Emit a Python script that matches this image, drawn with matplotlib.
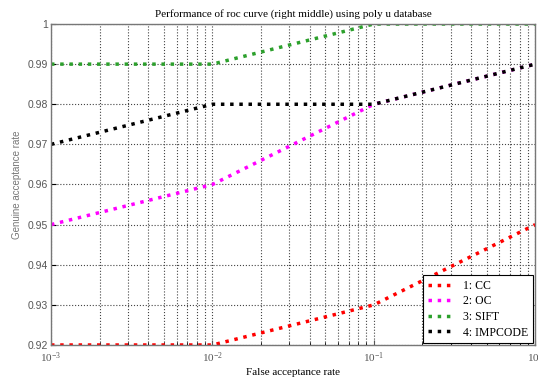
import matplotlib
matplotlib.use('Agg')
import numpy as np
import matplotlib.pyplot as plt

# data
far = [1e-3, 1e-2, 1e-1, 1.0]
gar_cc = [0.92, 0.92, 0.93, 0.95]
gar_oc = [0.95, 0.96, 0.98, 0.99]
gar_sift = [0.99, 0.99, 1.00, 1.00]
gar_imp = [0.97, 0.98, 0.98, 0.99]
labels = ['1: CC', '2: OC', '3: SIFT', '4: IMPCODE']
yticks = [0.92, 0.93, 0.94, 0.95, 0.96, 0.97, 0.98, 0.99, 1.0]
yticklabels = ['0.92', '0.93', '0.94', '0.95', '0.96', '0.97', '0.98', '0.99', '1']

serif = 'Liberation Serif'
sans = 'Liberation Sans'

fig = plt.figure(figsize=(5.38, 3.81), dpi=100)
ax = fig.add_axes([0.0948, 0.0945, 0.9, 0.8425])

ax.plot(far, gar_cc, linestyle=':', color='#ff0000', lw=2.5, label=labels[0])
ax.plot(far, gar_oc, linestyle=':', color='#ff00ff', lw=2.5, label=labels[1])
ax.plot(far, gar_sift, linestyle=':', color='#2ca02c', lw=2.5, label=labels[2])
# black line covers the magenta one where they coincide
ax.plot(far, gar_imp, linestyle=':', color='black', gapcolor='white', lw=2.5, label=labels[3])

ax.set_xscale('log')
ax.set_xlim(1e-3, 1)
ax.set_ylim(0.92, 1.0)
ax.set_yticks(yticks)
ax.set_yticklabels(yticklabels, fontfamily=sans, fontsize=7.5, color='#555555')
for t in ax.get_xticklabels():
    t.set_fontfamily(serif)
ax.tick_params(axis='x', labelsize=8, colors='#555555', direction='in', pad=4)
ax.tick_params(axis='y', direction='in', pad=2)
ax.tick_params(which='minor', direction='in')

ax.grid(True, which='major', linestyle=':', color='#444444', lw=0.8)
ax.grid(True, which='minor', axis='x', linestyle=':', color='#444444', lw=0.8)
for s in ax.spines.values():
    s.set_color('#777777')
    s.set_linewidth(1.0)

ax.set_title('Performance of roc curve (right middle) using poly u database',
             fontfamily=serif, fontsize=8, pad=5)
ax.set_xlabel('False acceptance rate', fontfamily=serif, fontsize=8, labelpad=2)
ax.set_ylabel('Genuine acceptance rate', fontfamily=sans, fontsize=7, color='#777777', labelpad=4)

leg = ax.legend(loc='lower right', prop={'family': serif, 'size': 8.5},
                fancybox=False, framealpha=1, edgecolor='black',
                handlelength=2.2, borderaxespad=0.15, labelspacing=0.3,
                borderpad=0.4)
leg.get_frame().set_linewidth(0.8)
# use gapcolor-free handles in the legend
for h in leg.get_lines():
    h.set_gapcolor(None)

fig.savefig('out.png', dpi=100)
